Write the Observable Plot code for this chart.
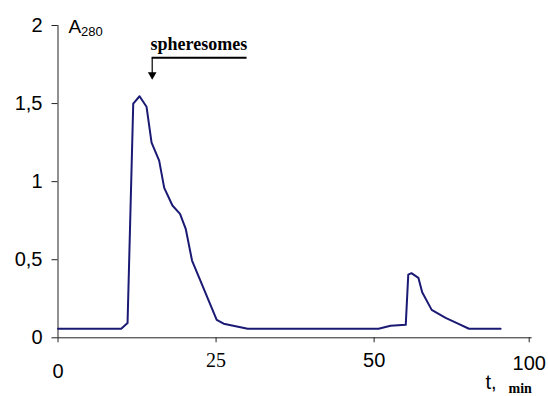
<!DOCTYPE html>
<html>
<head>
<meta charset="utf-8">
<script src="https://cdn.jsdelivr.net/npm/d3@7"></script>
<script src="https://cdn.jsdelivr.net/npm/@observablehq/plot@0.6"></script>
<style>
  html, body { margin: 0; padding: 0; background: #fff; }
  #chart svg { display: block; }
</style>
</head>
<body>
<div id="chart"></div>
<script>
// Elution time (axis units) and absorbance A280
const time = [0, 10.0, 11.0, 11.9, 12.9, 14.0, 14.8, 16.0, 16.8, 18.1, 19.3, 20.2, 21.2, 22.5, 25.1, 26.2, 30.0,
              50.7, 52.6, 55.0, 55.4, 55.9, 57.0, 57.6, 59.1, 61.3, 63.1, 65.0, 70.0];
const absorbance = [0.058, 0.058, 0.094, 1.50, 1.547, 1.48, 1.25, 1.135, 0.96, 0.847, 0.794, 0.698, 0.495, 0.367, 0.115, 0.09, 0.058,
                    0.058, 0.077, 0.083, 0.405, 0.414, 0.384, 0.292, 0.179, 0.128, 0.094, 0.058, 0.058];

const xTickValues = [0, 25, 50, 75];
const xTickLabels = ["0", "25", "50", "100"];
const yTickValues = [0, 0.5, 1, 1.5, 2];
const yTickLabels = ["0", "0,5", "1", "1,5", "2"];
const annotation = "spheresomes";

const data = time.map((t, i) => ({t, a: absorbance[i]}));
const xFmt = d => xTickLabels[xTickValues.indexOf(d)];
const yFmt = d => yTickLabels[yTickValues.indexOf(d)];

// annotation anchor (data coordinates)
const arrowX = 14.9, arrowTopY = 1.793, arrowEndX = 29.9, arrowHeadY = 1.685;

const sans = "Liberation Sans, Arial, sans-serif";
const serif = "Liberation Serif, Times New Roman, serif";

const chart = Plot.plot({
  width: 548,
  height: 396,
  marginLeft: 57.5,
  marginRight: 16.3,
  marginTop: 25,
  marginBottom: 58.7,
  x: {domain: [0, 75]},
  y: {domain: [0, 2]},
  style: {fontFamily: sans, fontSize: "20px", background: "white", color: "black"},
  marks: [
    Plot.ruleX([0], {stroke: "#222"}),
    Plot.ruleY([0], {stroke: "#222"}),
    Plot.axisY({ticks: yTickValues, tickFormat: yFmt, tickSize: 6, tickPadding: 9.5, fontSize: 20, label: null, stroke: "#222"}),
    Plot.axisX({ticks: [0], tickFormat: xFmt, tickSize: 5, tickPadding: 21, fontSize: 20, label: null, stroke: "#222"}),
    Plot.axisX({ticks: [25], tickFormat: xFmt, tickSize: 5, tickPadding: 10, fontSize: 20, fontFamily: serif, label: null, stroke: "#222"}),
    Plot.axisX({ticks: [50], tickFormat: xFmt, tickSize: 5, tickPadding: 10, fontSize: 20, label: null, stroke: "#222"}),
    Plot.axisX({ticks: [75], tickFormat: xFmt, tickSize: 5, tickPadding: 13, fontSize: 20, dx: -3, label: null, stroke: "#222"}),
    Plot.line(data, {x: "t", y: "a", stroke: "#1a1a75", strokeWidth: 2}),
    // y label A280
    Plot.text(["A"], {frameAnchor: "top-left", textAnchor: "start", lineAnchor: "middle", dx: 10.5, dy: 1.6, fontSize: 19, fontFamily: sans}),
    Plot.text(["280"], {frameAnchor: "top-left", textAnchor: "start", lineAnchor: "middle", dx: 23, dy: 6.8, fontSize: 13, fontFamily: sans}),
    // x label t, min
    Plot.text(["t,"], {frameAnchor: "bottom-right", textAnchor: "start", lineAnchor: "middle", dx: -46.7, dy: 45, fontSize: 20, fontFamily: sans}),
    Plot.text(["min"], {frameAnchor: "bottom-right", textAnchor: "start", lineAnchor: "middle", dx: -23.7, dy: 51.2, fontSize: 14, fontWeight: "bold", fontFamily: serif}),
    // annotation
    Plot.ruleY([arrowTopY], {x1: arrowX, x2: arrowEndX, stroke: "black", strokeWidth: 2}),
    Plot.ruleX([arrowX], {y1: arrowTopY, y2: arrowHeadY, stroke: "black", strokeWidth: 1.2}),
    Plot.dot([arrowX], {x: d => d, y: arrowHeadY, symbol: "triangle", r: 3.2, fill: "black", stroke: null, rotate: 180}),
    Plot.text([annotation], {x: arrowX, y: arrowTopY, dx: -1.7, dy: -13.1, textAnchor: "start", lineAnchor: "middle", fontSize: 18, fontWeight: "bold", fontFamily: serif})
  ]
});
document.getElementById("chart").appendChild(chart);
</script>
</body>
</html>
